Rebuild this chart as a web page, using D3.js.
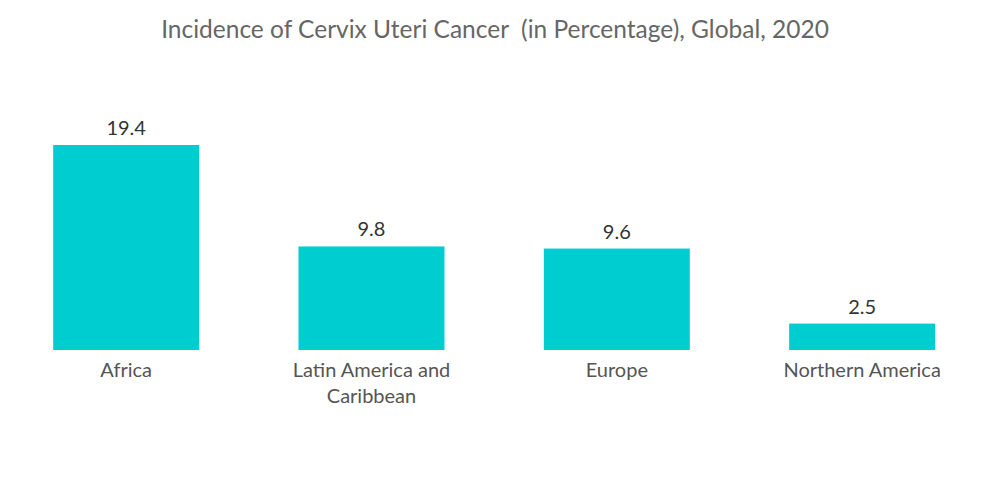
<!DOCTYPE html>
<html><head><meta charset="utf-8">
<script src="https://cdn.jsdelivr.net/npm/d3@7"></script>
<style>body{margin:0;background:#fff}svg{display:block}text{white-space:pre}</style>
</head><body><svg id="c" width="1000" height="504"></svg>
<script>
const categories = ["Africa", "Latin America and\nCaribbean", "Europe", "Northern America"];
const values = [19.4, 9.8, 9.6, 2.5];
const title = "Incidence of Cervix Uteri Cancer  (in Percentage), Global, 2020";

const svg = d3.select("#c");
const font = "Lato, 'Open Sans', sans-serif";
const x = d3.scaleBand().domain(categories).range([3.5, 984.8]).paddingInner(0.405).paddingOuter(0.2025);
const y = d3.scaleLinear().domain([0, 19.4]).range([350, 145]);

svg.append("text").attr("x", 495).attr("y", 38).attr("text-anchor", "middle")
  .attr("font-family", font).attr("font-size", 24.5).attr("fill", "#666").text(title);

svg.selectAll("rect.bar").data(values).join("rect").attr("class", "bar")
  .attr("x", (d, i) => x(categories[i])).attr("width", x.bandwidth())
  .attr("y", d => y(d)).attr("height", d => y(0) - y(d)).attr("fill", "#00CDCF");

svg.selectAll("text.val").data(values).join("text").attr("class", "val")
  .attr("x", (d, i) => x(categories[i]) + x.bandwidth() / 2).attr("y", d => y(d) - 10)
  .attr("text-anchor", "middle").attr("font-family", font).attr("font-size", 20).attr("fill", "#333")
  .text(d => d);

const axis = d3.axisBottom(x).tickSize(0).tickPadding(0);
const g = svg.append("g").attr("transform", "translate(0,350)").call(axis);
g.select(".domain").remove();
g.selectAll(".tick text").remove();
g.selectAll(".tick").each(function(d) {
  const t = d3.select(this).append("text").attr("text-anchor", "middle")
    .attr("font-family", font).attr("font-size", 20).attr("fill", "#555");
  d.split("\n").forEach((line, i) => t.append("tspan").attr("x", 0).attr("y", 27 + i * 26).text(line));
});
</script></body></html>
